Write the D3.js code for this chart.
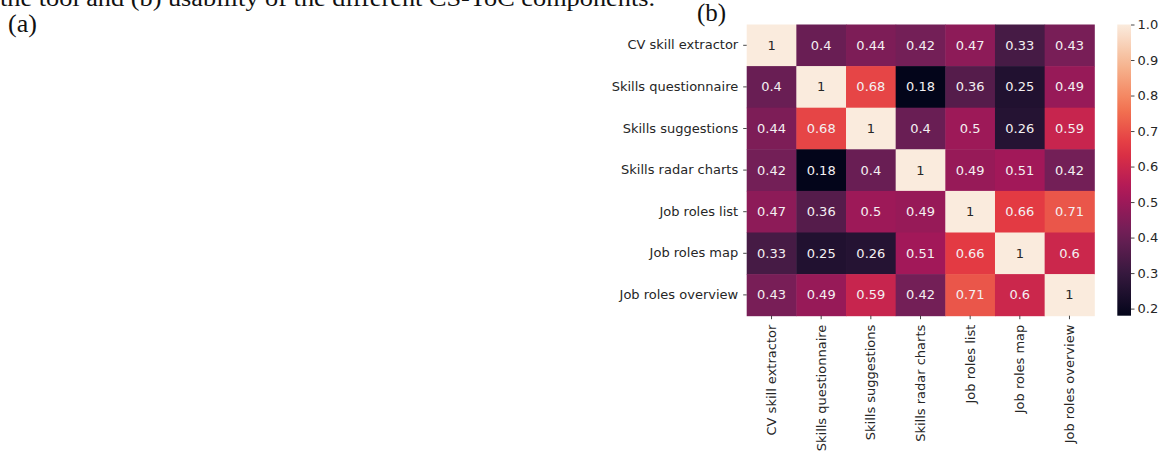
<!DOCTYPE html>
<html>
<head>
<meta charset="utf-8">
<script src="https://cdn.jsdelivr.net/npm/d3@7"></script>
<style>
  html, body { margin: 0; padding: 0; background: #fff; }
  svg { display: block; }
  .tick text { font-family: "DejaVu Sans", sans-serif; }
</style>
</head>
<body>
<svg id="chart" width="1164" height="457"></svg>
<script>
// Components compared in the usability study
const components = [
  "CV skill extractor",
  "Skills questionnaire",
  "Skills suggestions",
  "Skills radar charts",
  "Job roles list",
  "Job roles map",
  "Job roles overview"
];

// Pairwise correlation of usability ratings, one row per component
const cvSkillExtractor     = [1, 0.4, 0.44, 0.42, 0.47, 0.33, 0.43];
const skillsQuestionnaire  = [0.4, 1, 0.68, 0.18, 0.36, 0.25, 0.49];
const skillsSuggestions    = [0.44, 0.68, 1, 0.4, 0.5, 0.26, 0.59];
const skillsRadarCharts    = [0.42, 0.18, 0.4, 1, 0.49, 0.51, 0.42];
const jobRolesList         = [0.47, 0.36, 0.5, 0.49, 1, 0.66, 0.71];
const jobRolesMap          = [0.33, 0.25, 0.26, 0.51, 0.66, 1, 0.6];
const jobRolesOverview     = [0.43, 0.49, 0.59, 0.42, 0.71, 0.6, 1];

const correlations = [
  cvSkillExtractor, skillsQuestionnaire, skillsSuggestions, skillsRadarCharts,
  jobRolesList, jobRolesMap, jobRolesOverview
];

// Colour bar tick labels
const colorbarTicks = [0.2, 0.3, 0.4, 0.5, 0.6, 0.7, 0.8, 0.9, 1.0];

const captionText = "the tool and (b) usability of the different CS-ToC components.";

// "rocket" colormap stops
const rocketStops = ["#03051a", "#35193e", "#701f57", "#ad1759", "#e13342", "#f37651", "#f6b48f", "#faebdd"];
const rocket = d3.piecewise(d3.interpolateRgb, rocketStops);

const vmin = 0.18, vmax = 1.0;
const color = d3.scaleSequential(rocket).domain([vmin, vmax]);

const svg = d3.select("#chart");

// Caption fragment and panel labels
svg.append("text")
  .attr("x", 0).attr("y", 6)
  .attr("font-family", "Liberation Serif, serif")
  .attr("font-size", 23)
  .attr("textLength", 655)
  .attr("lengthAdjust", "spacingAndGlyphs")
  .attr("fill", "#111")
  .text(captionText);

svg.append("text")
  .attr("x", 8).attr("y", 32)
  .attr("font-family", "Liberation Serif, serif")
  .attr("font-size", 26)
  .attr("fill", "#111")
  .text("(a)");

svg.append("text")
  .attr("x", 697).attr("y", 21)
  .attr("font-family", "Liberation Serif, serif")
  .attr("font-size", 25)
  .attr("fill", "#111")
  .text("(b)");

// Heatmap geometry
const hmLeft = 746.7, hmRight = 1094.3, hmTop = 24.5, hmBottom = 315.7;

const x = d3.scaleBand().domain(components).range([hmLeft, hmRight]).padding(0);
const y = d3.scaleBand().domain(components).range([hmTop, hmBottom]).padding(0);

const cells = [];
correlations.forEach((row, i) => {
  row.forEach((v, j) => cells.push({ row: components[i], col: components[j], value: v }));
});

const g = svg.append("g");

g.selectAll("rect.cell")
  .data(cells)
  .join("rect")
  .attr("class", "cell")
  .attr("x", d => x(d.col))
  .attr("y", d => y(d.row))
  .attr("width", x.bandwidth() + 0.5)
  .attr("height", y.bandwidth() + 0.5)
  .attr("fill", d => color(d.value));

// Annotation colour follows relative luminance of the cell
function luminance(c) {
  const rgb = d3.rgb(c);
  const ch = [rgb.r, rgb.g, rgb.b].map(v => {
    v /= 255;
    return v <= 0.03928 ? v / 12.92 : Math.pow((v + 0.055) / 1.055, 2.4);
  });
  return 0.2126 * ch[0] + 0.7152 * ch[1] + 0.0722 * ch[2];
}

g.selectAll("text.annot")
  .data(cells)
  .join("text")
  .attr("class", "annot")
  .attr("x", d => x(d.col) + x.bandwidth() / 2)
  .attr("y", d => y(d.row) + y.bandwidth() / 2)
  .attr("text-anchor", "middle")
  .attr("dominant-baseline", "central")
  .attr("font-family", "DejaVu Sans, sans-serif")
  .attr("font-size", 13)
  .attr("fill", d => luminance(color(d.value)) > 0.408 ? "#262626" : "#f4f0f2")
  .text(d => d3.format("")(d.value));

// Axes
const yAxis = d3.axisLeft(y).tickSize(3.5).tickPadding(5);
const yG = svg.append("g").attr("transform", `translate(${hmLeft},0)`).call(yAxis);
yG.select(".domain").remove();
yG.selectAll(".tick line").attr("stroke", "#333").attr("stroke-width", 0.9);
yG.selectAll(".tick text").attr("font-size", 13).attr("fill", "#262626");

const xAxis = d3.axisBottom(x).tickSize(3.5).tickPadding(4);
const xG = svg.append("g").attr("transform", `translate(0,${hmBottom})`).call(xAxis);
xG.select(".domain").remove();
xG.selectAll(".tick line").attr("stroke", "#333").attr("stroke-width", 0.9);
xG.selectAll(".tick text")
  .attr("font-size", 13)
  .attr("fill", "#262626")
  .attr("transform", "rotate(-90)")
  .attr("text-anchor", "end")
  .attr("x", -9)
  .attr("y", 0)
  .attr("dy", "0.35em");

// Colour bar
const cbLeft = 1117.3, cbRight = 1131;
const cbScale = d3.scaleLinear().domain([vmin, vmax]).range([hmBottom, hmTop]);

const defs = svg.append("defs");
const grad = defs.append("linearGradient")
  .attr("id", "cbGrad")
  .attr("x1", 0).attr("y1", 1).attr("x2", 0).attr("y2", 0);
d3.range(0, 1.0001, 0.05).forEach(t => {
  grad.append("stop")
    .attr("offset", t)
    .attr("stop-color", rocket(t));
});

svg.append("rect")
  .attr("x", cbLeft)
  .attr("y", hmTop)
  .attr("width", cbRight - cbLeft)
  .attr("height", hmBottom - hmTop)
  .attr("fill", "url(#cbGrad)");

const cbAxis = d3.axisRight(cbScale)
  .tickValues(colorbarTicks)
  .tickFormat(d3.format(".1f"))
  .tickSize(3.5)
  .tickPadding(3);
const cbG = svg.append("g").attr("transform", `translate(${cbRight},0)`).call(cbAxis);
cbG.select(".domain").remove();
cbG.selectAll(".tick line").attr("stroke", "#333").attr("stroke-width", 0.9);
cbG.selectAll(".tick text").attr("font-size", 13).attr("fill", "#262626");
</script>
</body>
</html>
